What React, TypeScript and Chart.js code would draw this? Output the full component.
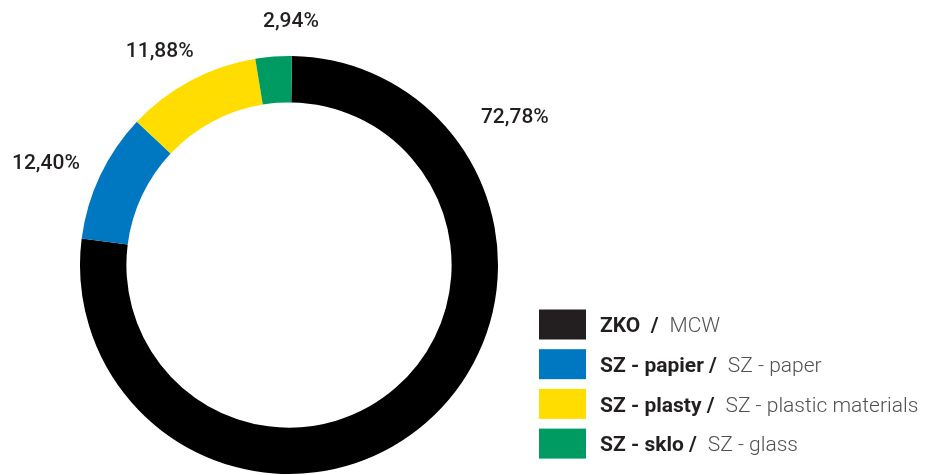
import React, { useEffect, useRef } from "react";
import { Chart, registerables } from "chart.js";

Chart.register(...registerables);

// Categories (bold Slovak name / regular English name)
const categoriesSk = ["ZKO  /", "SZ - papier /", "SZ - plasty /", "SZ - sklo /"];
const categoriesEn = ["MCW", "SZ - paper", "SZ - plastic materials", "SZ - glass"];
// Slice shares as drawn in the picture (%)
const sliceValues = [76.8, 10.0, 10.4, 2.8];
// Percentage labels printed on the chart
const percentLabels = ["72,78%", "12,40%", "11,88%", "2,94%"];

// Styling
const ringColors = ["#000000", "#0077c1", "#ffdd00", "#009b62"];
const swatchColors = ["#231f20", "#0077c1", "#ffdd00", "#009b62"];
const labelAngleShift = [-82.6, -2.3, -3, 4.7]; // degrees from arc middle
const labelGap = [62, 55, 42, 37]; // px outside the outer radius

const TEXT_DARK = "#231f20";
const TEXT_GRAY = "#505153";
const FONT = "Roboto, 'Open Sans', sans-serif";

const labelsPlugin = {
  id: "pctLabels",
  afterDatasetsDraw(chart: any) {
    const ctx = chart.ctx;
    const meta = chart.getDatasetMeta(0);
    ctx.save();
    ctx.fillStyle = TEXT_DARK;
    ctx.font = `500 21px ${FONT}`;
    ctx.textAlign = "center";
    ctx.textBaseline = "alphabetic";
    meta.data.forEach((arc: any, i: number) => {
      const p = arc.getProps(["x", "y", "startAngle", "endAngle", "outerRadius"], true);
      const a = (p.startAngle + p.endAngle) / 2 + (labelAngleShift[i] * Math.PI) / 180;
      const r = p.outerRadius + labelGap[i];
      const x = p.x + Math.cos(a) * r;
      const y = p.y + Math.sin(a) * r;
      ctx.fillText(percentLabels[i], x, y + 7.5);
    });
    ctx.restore();
  },
};

const legendPlugin = {
  id: "customLegend",
  afterDraw(chart: any) {
    const ctx = chart.ctx;
    const left = 539;
    const top = 309.5;
    const pitch = 39.7;
    const sw = 47;
    const sh = 30;
    ctx.save();
    ctx.textBaseline = "alphabetic";
    ctx.textAlign = "left";
    categoriesSk.forEach((name, i) => {
      const y0 = top + i * pitch;
      ctx.fillStyle = swatchColors[i];
      ctx.fillRect(left, y0, sw, sh);
      const base = y0 + sh / 2 + 7.8;
      ctx.font = `700 21px ${FONT}`;
      ctx.fillStyle = TEXT_DARK;
      const tx = 600;
      ctx.fillText(name, tx, base);
      const w = ctx.measureText(name).width;
      ctx.font = `300 21px ${FONT}`;
      ctx.fillStyle = TEXT_GRAY;
      ctx.fillText(categoriesEn[i], tx + w + 11, base);
    });
    ctx.restore();
  },
};

export default function App() {
  const ref = useRef<HTMLCanvasElement | null>(null);
  useEffect(() => {
    const prevMargin = document.body.style.margin;
    document.body.style.margin = "0";
    const canvas = ref.current!;
    const chart = new Chart(canvas, {
      type: "doughnut",
      data: {
        labels: categoriesSk.map((s, i) => `${s} ${categoriesEn[i]}`),
        datasets: [
          {
            data: sliceValues,
            backgroundColor: ringColors,
            borderWidth: 0,
          },
        ],
      },
      options: {
        responsive: false,
        animation: false,
        devicePixelRatio: 1,
        cutout: "77.8%",
        rotation: 0.8,
        layout: { padding: { left: 80, right: 432, top: 56, bottom: 1 } },
        plugins: {
          legend: { display: false },
          tooltip: { enabled: false },
        },
        events: [],
      },
      plugins: [labelsPlugin, legendPlugin],
    });
    return () => {
      chart.destroy();
      document.body.style.margin = prevMargin;
    };
  }, []);
  return (
    <div style={{ position: "absolute", left: 0, top: 0, width: 930, height: 475, background: "#ffffff" }}>
      <canvas ref={ref} width={930} height={475} style={{ width: 930, height: 475, display: "block" }} />
    </div>
  );
}
